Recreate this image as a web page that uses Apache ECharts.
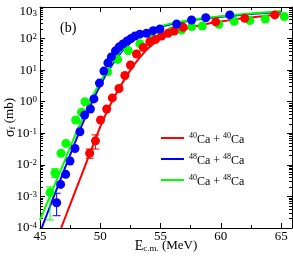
<!DOCTYPE html>
<html><head><meta charset="utf-8">
<script src="https://cdn.jsdelivr.net/npm/echarts@6/dist/echarts.min.js"></script>
<style>html,body{margin:0;padding:0;background:#fff}#c{width:293px;height:257px}</style>
</head><body><div id="c"></div>
<script>
// ---- curves (calculated cross sections) ----
const redLineE   = [46.75,47.5,48.5,49.5,50,50.5,51,51.5,52,52.5,53,53.5,54,54.5,55,56,57,58,59,60,61,62,63,64,65];
const redLineS   = [1.0e-4,5.5e-4,5.4e-3,0.0525,0.162,0.437,1.07,2.4,5.0,10,18.6,31.6,50.1,72.4,97.7,148,200,251,302,347,398,447,490,537,589];
const blueLineE  = [45.14,46,47,48,48.5,49,49.5,50,50.5,51,51.5,52,52.5,53,54,55,56,57,58,59,60,62,64,65];
const blueLineS  = [1.0e-4,7.1e-4,6.8e-3,0.063,0.19,0.525,1.38,3.31,7.59,15.1,28.2,47.9,74.1,105,174,234,295,347,398,447,490,575,661,708];
const greenLineE = [45,46,47,48,48.5,49,49.5,50,50.5,51,51.5,52,52.5,53,54,55,56,57,58,59,60,62,64,65];
const greenLineS = [1.78e-4,1.48e-3,0.0123,0.105,0.282,0.741,1.86,4.27,9.12,17.8,31.6,52.5,79.4,110,178,245,309,363,417,468,513,603,692,741];

// ---- measured points ----
const redPtE   = [49.12,49.6,50.02,50.53,51.0,51.55,52.04,52.5,53.0,53.56,54.11,54.57,55.08,55.63,56.13,56.87,59.58,61.98,64.47];
const redPtS   = [0.0234,0.0575,0.263,0.589,1.32,2.63,6.76,14.5,32.4,52.5,79.4,93,120,148,174,229,339,437,562];
const bluePtE  = [46.38,46.71,47.13,47.49,47.9,48.31,48.7,49.18,49.47,49.93,50.3,50.63,50.92,51.26,51.55,51.88,52.21,52.54,52.87,53.28,53.84,54.39,54.94,56.33,57.57,58.75,60.74];
const bluePtS  = [6.3e-4,2.4e-3,5.0e-3,0.0132,0.0331,0.112,0.38,0.589,1.23,3.89,9.33,17,26.3,40.7,53.7,67.6,83.2,100,120,138,148,178,200,288,389,457,562];
const greenPtE = [45.83,46.24,46.74,47.15,47.96,48.44,48.73,50.61,51.44,52.32,53.28,54.25,55.08,55.91,56.74,57.59,58.46,59.83,61.1,62.4,63.68,65.26];
const greenPtS = [1.32e-3,5.6e-3,0.0234,0.0479,0.263,0.468,1.0,8.9,21.9,41.7,69,112,129,174,186,240,251,282,355,372,417,501];

// ---- error bars: [E, low, high] ----
const redErr   = [[49.12,0.0162,0.0316],[49.6,0.0316,0.089]];
const blueErr  = [[46.38,2.45e-4,1.26e-3]];
const greenErr = [[45.83,1.8e-4,2.0e-3],[46.24,4.0e-3,7.5e-3]];

// ---- ticks ----
const xMajor = [45,50,55,60,65];
const xMinor = [47.5,52.5,57.5,62.5];
const yMajor = [1e-4,1e-3,1e-2,1e-1,1,10,100,1000];
const yMinor = [];
for (let e = -4; e < 3; e++) for (let m = 2; m <= 9; m++) yMinor.push(+(m * Math.pow(10, e)).toPrecision(3));

const legendNames = {
  r: '{sup|40}{n|Ca + }{sup|40}{n|Ca}',
  b: '{sup|48}{n|Ca + }{sup|48}{n|Ca}',
  g: '{sup|40}{n|Ca + }{sup|48}{n|Ca}'
};

const FONT = 'Liberation Serif';
const RED = '#ff0000', BLUE = '#0000ff', GREEN = '#00ff00';

function zip(a, b) { return a.map((v, i) => [v, b[i]]); }

function renderErr(params, api) {
  const x = api.value(0);
  const lo = api.coord([x, api.value(1)]);
  const hi = api.coord([x, api.value(2)]);
  const w = 4;
  const style = { stroke: api.visual('color'), lineWidth: 1 };
  return { type: 'group', children: [
    { type: 'line', shape: { x1: lo[0], y1: lo[1], x2: hi[0], y2: hi[1] }, style },
    { type: 'line', shape: { x1: lo[0] - w, y1: lo[1], x2: lo[0] + w, y2: lo[1] }, style },
    { type: 'line', shape: { x1: hi[0] - w, y1: hi[1], x2: hi[0] + w, y2: hi[1] }, style }
  ]};
}

const XMIN = 45, XMAX = 65.9, YMIN = 1e-4, YMAX = 1e3;
const axLine = { show: true, lineStyle: { color: '#000', width: 1 } };

function xAx(pos, ticks, len, line, labels) {
  return {
    type: 'value', min: XMIN, max: XMAX, position: pos, gridIndex: 0,
    axisLine: line ? axLine : { show: false },
    axisTick: { show: true, inside: true, length: len, customValues: ticks, lineStyle: { color: '#000' } },
    axisLabel: labels ? { show: true, customValues: xMajor, margin: 2, color: '#000', fontFamily: FONT, fontSize: 13 } : { show: false },
    splitLine: { show: false }
  };
}
function yAx(pos, ticks, len, line, labels) {
  return {
    type: 'log', logBase: 10, min: YMIN, max: YMAX, position: pos, gridIndex: 0,
    axisLine: line ? axLine : { show: false },
    axisTick: { show: true, inside: true, length: len, customValues: ticks, lineStyle: { color: '#000' } },
    axisLabel: labels ? {
      show: true, customValues: yMajor, margin: 3, color: '#000', fontFamily: FONT,
      formatter: function (v) {
        const e = Math.round(Math.log10(v));
        if (e === 3) return '{bt|10}{st|3}';
        return '{b|10}{s|' + e + '}';
      },
      rich: {
        b: { fontFamily: FONT, fontSize: 13, lineHeight: 13, padding: [4, 0, 4, 0], color: '#000' },
        s: { fontFamily: FONT, fontSize: 9, lineHeight: 9, verticalAlign: 'top', color: '#000' },
        bt: { fontFamily: FONT, fontSize: 13, lineHeight: 13, padding: [13, 0, 4, 0], color: '#000' },
        st: { fontFamily: FONT, fontSize: 9, lineHeight: 9, padding: [9, 0, 0, 0], verticalAlign: 'top', color: '#000' }
      }
    } : { show: false },
    splitLine: { show: false }
  };
}

const xAxes = [xAx('bottom', xMajor, 5, true, true), xAx('bottom', xMinor, 3, false, false),
               xAx('top', xMajor, 5, true, false), xAx('top', xMinor, 3, false, false)];
xAxes[0].name = '{e|E}{sub|c.m.}{n| (MeV)}';
xAxes[0].nameLocation = 'middle';
xAxes[0].nameGap = 11;
xAxes[0].nameMoveOverlap = false;
xAxes[0].nameTextStyle = { color: '#000', fontFamily: FONT, rich: {
  e: { fontFamily: FONT, fontSize: 14, color: '#000' },
  sub: { fontFamily: FONT, fontSize: 9, verticalAlign: 'bottom', color: '#000' },
  n: { fontFamily: FONT, fontSize: 13, color: '#000' } } };

const yAxes = [yAx('left', yMajor, 5, true, true), yAx('left', yMinor, 3, false, false),
               yAx('right', yMajor, 5, true, false), yAx('right', yMinor, 3, false, false)];
yAxes[0].name = '{s|σ}{sub|f}{n| (mb)}';
yAxes[0].nameLocation = 'middle';
yAxes[0].nameGap = 23;
yAxes[0].nameMoveOverlap = false;
yAxes[0].nameTextStyle = { color: '#000', fontFamily: FONT, rich: {
  s: { fontFamily: FONT, fontSize: 14, color: '#000' },
  sub: { fontFamily: FONT, fontSize: 9, verticalAlign: 'bottom', color: '#000' },
  n: { fontFamily: FONT, fontSize: 13, color: '#000' } } };

function lineSeries(name, E, S, color) {
  return { name, type: 'line', xAxisIndex: 0, yAxisIndex: 0, data: zip(E, S), smooth: 0.3,
           showSymbol: false, symbol: 'none', lineStyle: { color, width: 2 }, itemStyle: { color }, z: 2, clip: true };
}
function scatterSeries(name, E, S, color) {
  return { name, type: 'scatter', xAxisIndex: 0, yAxisIndex: 0, data: zip(E, S), symbol: 'circle', symbolSize: 9,
           itemStyle: { color, opacity: 1 }, z: 4 };
}
function errSeries(name, data, color) {
  return { name, type: 'custom', xAxisIndex: 0, yAxisIndex: 0, data, renderItem: renderErr,
           encode: { x: 0, y: [1, 2] }, itemStyle: { color }, z: 3 };
}

const chart = echarts.init(document.getElementById('c'), null, { renderer: 'canvas' });
chart.setOption({
  animation: false,
  backgroundColor: '#fff',
  grid: { left: 40, right: 1, top: 7, bottom: 29, containLabel: false, outerBoundsMode: 'none' },
  xAxis: xAxes,
  yAxis: yAxes,
  legend: {
    data: ['r', 'b', 'g'], orient: 'vertical', left: 156, top: 125, itemWidth: 23, itemHeight: 2, itemGap: 5,
    icon: 'rect', formatter: n => legendNames[n], selectedMode: false,
    textStyle: { color: '#000', fontFamily: FONT, rich: {
      n: { fontFamily: FONT, fontSize: 12, lineHeight: 12, padding: [4, 0, 0, 0], color: '#000' },
      sup: { fontFamily: FONT, fontSize: 8, lineHeight: 8, verticalAlign: 'top', color: '#000' } } }
  },
  graphic: [{ type: 'text', left: 60, top: 21, style: { text: '(b)', fontFamily: FONT, fontSize: 14, fill: '#000' } }],
  series: [
    lineSeries('r', redLineE, redLineS, RED),
    lineSeries('b', blueLineE, blueLineS, BLUE),
    lineSeries('g', greenLineE, greenLineS, GREEN),
    errSeries('ge', greenErr, GREEN),
    errSeries('be', blueErr, BLUE),
    errSeries('re', redErr, RED),
    scatterSeries('gp', greenPtE, greenPtS, GREEN),
    scatterSeries('rp', redPtE, redPtS, RED),
    scatterSeries('bp', bluePtE, bluePtS, BLUE)
  ]
});
</script></body></html>
